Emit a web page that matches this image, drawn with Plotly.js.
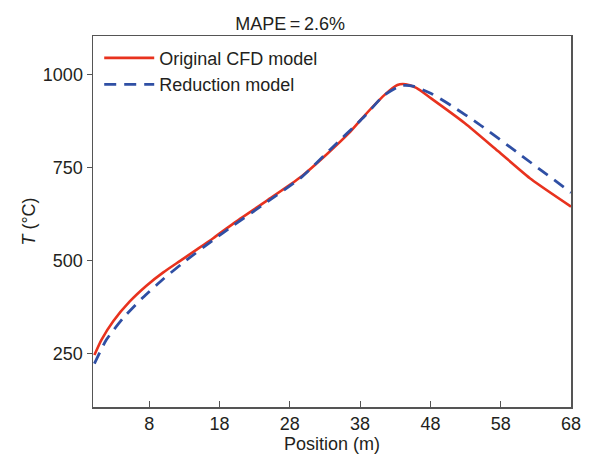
<!DOCTYPE html>
<html>
<head>
<meta charset="utf-8">
<script src="https://cdn.plot.ly/plotly-3.0.1.min.js"></script>
<style>html,body{margin:0;padding:0;background:#fff;}#chart{width:592px;height:455px;}</style>
</head>
<body>
<div id="chart"></div>
<script>
// Original CFD model
var cfdX = [0.2, 1.2, 2.9, 5.2, 7.6, 10, 12.4, 14.8, 17.1, 20, 24.8, 29.5, 33.3, 36.4, 38.6, 41.4, 43.3, 44.5, 46, 48.1, 52.9, 57.6, 62.4, 68];
var cfdT = [245, 286, 337, 389, 432, 468, 499, 530, 560, 600, 662, 724, 787, 843, 890, 945, 973, 975, 965, 937, 870, 795, 718, 645];
// Reduction model
var redX = [0.2, 1.9, 4.3, 7.1, 10, 12.9, 17.1, 20, 24.8, 29.5, 33.8, 38.6, 41.4, 43.8, 45.5, 48.1, 51, 54.8, 60.5, 68];
var redT = [222, 286, 345, 400, 450, 495, 555, 595, 658, 722, 800, 888, 945, 971, 970, 950, 917, 869, 789, 683];
var xTicks = [8, 18, 28, 38, 48, 58, 68];
var yTicks = [250, 500, 750, 1000];

var font = {family: 'Arial, "Liberation Sans", sans-serif', size: 18, color: '#231f20'};
var traces = [
  {x: cfdX, y: cfdT, name: 'Original CFD model', type: 'scatter', mode: 'lines',
   line: {color: '#e8321e', width: 2.6, shape: 'spline', smoothing: 0.6}},
  {x: redX, y: redT, name: 'Reduction model', type: 'scatter', mode: 'lines',
   line: {color: '#2f4fa4', width: 2.8, dash: '12px,8px', shape: 'spline', smoothing: 0.6}}
];
var layout = {
  width: 592, height: 455,
  margin: {l: 93, r: 21, t: 36, b: 48},
  paper_bgcolor: '#fff', plot_bgcolor: '#fff',
  font: font,
  showlegend: true,
  title: {text: 'MAPE\u2009=\u20092.6%', font: font, x: 0.49, xanchor: 'center', y: 0.947, yanchor: 'middle'},
  xaxis: {range: [0, 68], tickvals: xTicks, ticktext: xTicks.map(String), ticks: 'inside', ticklen: 6,
          tickcolor: '#555', showgrid: false, zeroline: false, showline: true, linecolor: '#555', linewidth: 1.5,
          mirror: true, tickfont: font, title: {text: 'Position (m)', font: font, standoff: 3}},
  yaxis: {range: [105, 1105], tickvals: yTicks, ticktext: yTicks.map(String), ticks: 'outside', ticklen: 5,
          tickcolor: '#555', showgrid: false, zeroline: false, showline: true, linecolor: '#555', linewidth: 1.5,
          mirror: true, tickfont: font, title: {text: '<i>T</i> (°C)', font: font, standoff: 2}},
  legend: {x: 0.013, y: 0.99, xanchor: 'left', yanchor: 'top', bgcolor: 'rgba(0,0,0,0)', font: font,
           itemwidth: 50, tracegroupgap: 0}
};
Plotly.newPlot('chart', traces, layout, {staticPlot: true, displayModeBar: false});
</script>
</body>
</html>
